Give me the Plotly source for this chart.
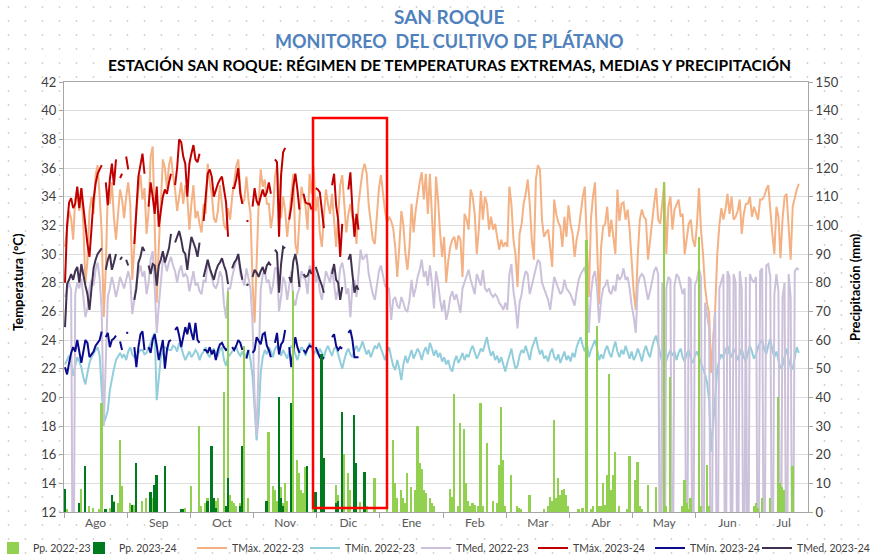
import base64
import plotly.graph_objects as go

# ---------------- DATA ----------------
N_DIAS = 365  # categorías diarias (1 Ago - 31 Jul)
dias = list(range(N_DIAS))
meses = ["Ago", "Sep", "Oct", "Nov", "Dic", "Ene", "Feb", "Mar", "Abr", "May", "Jun", "Jul"]

tmax_2223 = [
    30.5, 31.8, 33.0, 32.5, 31.0, 33.8, 34.5, 33.0, 34.6, 32.0, 28.0, 29.5, 33.0, 34.0, 32.8, 35.5, 36.2, 34.0, 31.5, 25.6, 29.0, 34.5, 33.5, 35.0, 32.5, 31.0, 33.0, 34.5, 33.8, 32.5, 34.0,
    35.0, 33.5, 28.2, 30.5, 33.0, 34.5, 35.5, 33.8, 34.6, 31.4, 33.0, 36.8, 37.5, 32.0, 26.6, 30.5, 34.0, 36.6, 36.0, 34.6, 36.2, 36.8, 35.5, 34.5, 33.0, 34.2, 35.0, 33.5, 34.8, 34.0, 31.7,
    33.5, 34.8, 32.5, 33.0, 32.1, 31.5, 33.5, 32.8, 36.3, 35.0, 34.2, 32.5, 32.2, 33.0, 34.8, 33.5, 32.0, 31.7, 33.2, 32.4, 34.0, 35.0, 36.1, 36.6, 34.5, 33.5, 33.8, 35.4, 33.8, 32.8, 28.0,
    25.2, 30.0, 33.5, 35.9, 34.7, 35.2, 33.5, 33.5, 31.8, 32.8, 35.4, 36.2, 34.0, 32.5, 34.0, 33.0, 31.2, 32.8, 34.5, 35.6, 30.7, 30.0, 32.4, 34.7, 34.0, 33.3, 31.7, 35.6, 34.2, 36.1, 33.0,
    34.0, 31.5, 30.5, 32.6, 34.5, 33.5, 32.8, 34.2, 32.0, 30.5, 32.6, 34.8, 35.5, 33.8, 31.5, 32.8, 33.5, 32.5, 32.4, 30.7, 33.5, 34.7, 35.8, 36.3, 35.6, 33.4, 32.0, 31.0, 30.7, 32.8, 34.6,
    35.5, 34.0, 33.0, 32.2, 32.6, 32.3, 31.8, 30.5, 28.4, 30.5, 33.0, 32.0, 30.0, 28.9, 30.5, 33.5, 31.5, 33.0, 34.2, 35.0, 35.7, 33.8, 35.6, 32.8, 35.6, 32.8, 29.8, 35.4, 33.8, 31.5, 29.8,
    31.2, 28.0, 29.5, 30.5, 31.0, 31.2, 30.3, 31.3, 31.0, 28.4, 32.8, 32.4, 31.7, 34.5, 34.0, 32.8, 30.0, 31.7, 34.4, 32.4, 34.0, 33.5, 31.7, 32.6, 31.7, 32.1, 31.2, 30.3, 31.0, 30.5, 30.8,
    30.5, 34.7, 33.5, 31.0, 30.0, 27.7, 31.4, 32.1, 33.5, 34.2, 35.2, 33.5, 31.0, 29.6, 35.2, 36.2, 35.9, 32.4, 31.2, 31.5, 31.7, 30.5, 29.1, 33.8, 32.8, 32.2, 31.9, 30.5, 32.6, 31.2, 33.4,
    32.1, 31.4, 29.8, 31.0, 31.7, 33.1, 34.0, 34.7, 31.2, 27.0, 32.4, 34.0, 35.0, 31.2, 26.5, 30.5, 31.9, 32.1, 33.3, 31.2, 32.4, 31.2, 30.0, 34.5, 32.3, 33.5, 33.6, 32.4, 33.1, 31.7, 29.1,
    27.3, 26.1, 30.0, 32.4, 33.1, 32.6, 32.4, 29.6, 31.0, 32.4, 33.5, 34.6, 32.4, 32.1, 33.5, 35.0, 30.0, 33.3, 34.0, 31.7, 33.1, 33.5, 33.8, 32.6, 32.8, 30.0, 31.0, 32.1, 32.4, 31.0, 30.5,
    32.0, 34.6, 31.7, 30.0, 27.7, 26.5, 25.9, 21.7, 24.0, 26.3, 30.0, 32.0, 33.2, 32.4, 33.1, 34.2, 32.8, 34.0, 32.4, 32.6, 33.0, 33.8, 31.4, 32.8, 33.5, 33.5, 34.0, 32.6, 33.3, 32.8, 32.4,
    33.8, 33.8, 34.0, 34.5, 34.8, 32.8, 31.4, 30.0, 33.3, 32.6, 29.7, 32.4, 34.0, 34.2, 32.1, 29.6, 33.3, 34.0, 34.5, 34.9, None, None, None, None,
]

tmin_2223 = [
    22.3, 22.6, 22.9, 22.4, 21.5, 22.2, 22.8, 22.5, 22.1, 21.4, 20.9, 21.7, 22.4, 22.8, 23.1, 23.3, 23.5, 22.9, 20.5, 18.2, 18.6, 19.1, 20.5, 21.4, 22.0, 22.6, 22.9, 23.1, 22.8, 23.0, 22.6,
    23.2, 23.5, 23.0, 22.8, 22.8, 23.1, 23.3, 23.3, 23.0, 23.1, 23.4, 23.8, 24.2, 24.5, 19.8, 21.5, 22.8, 23.2, 23.5, 23.4, 23.3, 23.3, 23.6, 23.5, 23.2, 23.8, 23.5, 23.0, 22.6, 22.9, 23.2,
    22.8, 23.0, 23.3, 23.1, 22.6, 23.0, 23.2, 23.5, 23.0, 22.8, 23.2, 23.4, 23.0, 22.9, 23.3, 23.5, 22.6, 22.2, 22.8, 23.0, 23.2, 23.4, 23.5, 23.1, 22.9, 23.2, 22.8, 23.0, 23.3, 22.6, 21.5,
    19.0, 17.0, 18.7, 21.7, 22.8, 23.3, 23.0, 23.5, 23.2, 22.8, 23.4, 23.6, 23.2, 22.9, 23.3, 23.0, 22.7, 23.2, 23.6, 23.4, 23.0, 22.6, 23.1, 23.5, 23.3, 22.9, 23.4, 23.8, 23.5, 23.0, 23.3,
    23.0, 23.4, 23.1, 22.8, 23.3, 23.6, 23.2, 22.9, 23.4, 23.5, 23.0, 22.4, 22.0, 22.6, 23.1, 23.4, 23.0, 22.8, 23.3, 23.6, 23.2, 23.5, 23.9, 23.4, 23.0, 23.3, 22.8, 23.2, 23.6, 23.4, 23.8,
    23.4, 23.0, 22.6, 23.2, 23.5, 22.8, 22.2, 21.9, 22.6, 22.0, 21.2, 22.3, 22.9, 22.4, 22.8, 23.3, 22.7, 23.0, 23.4, 23.1, 22.6, 23.2, 23.5, 23.0, 23.8, 23.4, 22.9, 23.3, 22.8, 23.1, 22.5,
    22.8, 22.3, 22.6, 22.0, 21.8, 22.5, 22.9, 22.4, 22.7, 23.1, 22.6, 23.0, 22.8, 23.3, 23.6, 23.1, 22.7, 23.0, 23.4, 23.2, 23.8, 24.2, 23.4, 22.9, 23.2, 22.6, 22.9, 22.4, 22.8, 22.2, 21.8,
    22.4, 23.0, 23.4, 22.6, 22.0, 22.2, 22.9, 23.3, 23.1, 23.6, 23.0, 22.6, 23.4, 23.8, 24.2, 23.5, 23.0, 23.3, 22.7, 22.9, 22.5, 23.1, 23.4, 22.8, 22.6, 23.0, 22.4, 22.8, 23.2, 22.6, 22.9,
    22.5, 23.1, 22.8, 23.5, 23.9, 24.2, 23.6, 23.2, 23.8, 22.8, 23.3, 23.7, 24.0, 23.4, 22.6, 23.0, 22.7, 23.3, 23.6, 23.1, 22.8, 23.4, 23.9, 23.2, 22.8, 23.3, 23.0, 23.6, 23.1, 22.7, 23.2,
    22.6, 22.9, 23.4, 23.0, 22.5, 23.2, 23.6, 23.1, 22.8, 23.5, 24.0, 24.3, 23.6, 23.0, 22.4, 22.1, 22.6, 23.0, 23.3, 22.9, 23.2, 22.6, 23.1, 23.4, 22.8, 22.5, 23.0, 23.3, 22.7, 22.4, 22.9,
    23.2, 22.8, 22.4, 22.0, 21.6, 21.0, 19.8, 16.2, 18.0, 19.6, 22.0, 22.6, 23.0, 22.7, 23.3, 23.6, 23.0, 22.8, 23.4, 23.1, 22.6, 23.0, 23.4, 22.8, 22.5, 23.1, 23.6, 23.2, 22.7, 23.0, 23.5,
    23.8, 24.0, 23.4, 23.0, 23.6, 24.1, 23.3, 22.8, 23.2, 22.6, 22.0, 22.2, 22.8, 23.4, 22.6, 22.1, 22.0, 22.8, 23.5, 23.1, None, None, None, None,
]

tmed_2223 = [
    27.0, 27.6, 28.0, 27.5, 0.0, 27.2, 28.0, 27.6, 28.3, 27.0, 25.6, 26.2, 27.6, 28.2, 27.8, 28.9, 29.4, 28.3, 26.0, 18.0, 23.5, 27.0, 27.6, 28.4, 27.8, 27.0, 27.6, 28.4, 28.0, 27.6, 28.2,
    28.8, 28.2, 25.8, 26.8, 28.0, 28.6, 29.2, 28.4, 28.8, 27.2, 28.0, 29.6, 30.2, 27.6, 24.5, 26.4, 28.2, 29.6, 29.4, 28.8, 29.4, 29.8, 29.2, 28.8, 28.0, 28.8, 29.2, 28.4, 28.6, 28.4, 27.4,
    28.2, 28.8, 27.8, 28.0, 27.4, 27.2, 28.2, 28.0, 29.6, 29.0, 28.6, 27.8, 27.6, 28.0, 28.8, 28.4, 26.5, 25.5, 27.6, 27.6, 28.4, 29.0, 29.6, 29.8, 28.6, 28.2, 27.8, 29.0, 28.4, 27.6, 25.2,
    20.0, 17.3, 22.5, 27.5, 28.6, 28.8, 28.0, 28.2, 27.2, 27.8, 29.0, 29.0, 26.0, 27.0, 28.4, 28.0, 26.8, 27.8, 28.8, 26.8, 26.4, 27.2, 27.6, 28.8, 28.4, 28.2, 27.2, 29.2, 28.6, 29.6, 28.0,
    28.6, 27.4, 26.8, 27.8, 28.8, 28.4, 28.0, 29.0, 27.8, 26.8, 27.6, 29.0, 29.4, 28.6, 27.2, 27.6, 25.6, 27.8, 28.2, 27.0, 28.6, 30.3, 29.6, 29.8, 30.0, 28.6, 27.8, 27.2, 26.8, 28.0, 28.8,
    29.2, 28.4, 27.8, 27.6, 27.6, 25.4, 26.8, 27.0, 26.4, 26.2, 27.0, 26.6, 26.1, 26.0, 26.8, 28.2, 27.0, 27.6, 28.4, 28.9, 29.6, 28.4, 28.8, 27.8, 29.2, 28.0, 26.2, 28.8, 28.0, 26.8, 26.0,
    26.8, 25.4, 26.0, 27.0, 27.4, 26.8, 27.2, 26.6, 25.9, 27.6, 28.0, 28.4, 28.9, 28.2, 27.6, 27.2, 28.6, 28.2, 27.8, 28.9, 27.6, 27.4, 27.6, 27.2, 27.0, 27.2, 27.0, 26.6, 26.4, 26.1, 26.6,
    26.1, 28.6, 29.3, 27.4, 26.4, 24.8, 26.6, 27.2, 28.2, 28.8, 28.6, 27.2, 27.8, 28.4, 29.2, 29.6, 29.4, 28.0, 27.6, 27.2, 26.8, 26.1, 27.2, 28.4, 28.0, 27.6, 27.2, 27.4, 28.2, 27.6, 27.4,
    27.2, 26.8, 26.4, 27.4, 28.2, 28.6, 28.9, 29.1, 28.0, 24.5, 27.2, 28.4, 28.8, 27.6, 25.2, 26.8, 27.6, 27.8, 28.2, 27.4, 27.2, 27.8, 27.4, 28.6, 28.2, 28.4, 29.0, 28.2, 28.4, 27.6, 26.4,
    25.6, 24.5, 27.8, 28.4, 28.6, 28.4, 27.6, 26.8, 27.4, 28.2, 28.8, 29.1, 28.6, 0.0, 28.0, 0.0, 27.6, 28.4, 28.2, 0.0, 27.8, 28.6, 28.4, 27.8, 27.2, 27.6, 0.0, 28.4, 28.2, 0.0, 27.8,
    28.2, 29.0, 28.4, 0.0, 26.6, 25.8, 24.8, 0.0, 24.0, 26.0, 0.0, 27.6, 28.2, 28.6, 0.0, 28.8, 28.4, 0.0, 28.6, 28.0, 0.0, 28.8, 27.6, 0.0, 28.4, 0.0, 28.6, 28.2, 28.0, 28.4, 0.0,
    28.8, 29.0, 0.0, 29.2, 29.3, 28.4, 0.0, 27.2, 28.6, 27.4, 0.0, 27.0, 28.0, 0.0, 28.6, 27.0, 0.0, 28.8, 29.0, 28.9, None, None, None, None,
]

tmax_2324 = [
    28.0, 32.0, 33.6, 33.9, 33.2, 33.5, 34.7, 33.2, 34.6, 33.1,
    32.0, 30.7, 29.8, 31.8, 33.8, 34.9, 35.6, 35.9, 36.2, None,
    35.0, 33.4, 35.2, 36.3, 34.8, 36.6, None, 35.3, 35.6, None,
    36.8, 35.9, None, None, 30.7, 33.0, 35.4, 36.2, 37.0, 35.6,
    None, 33.3, 35.0, 34.0, 32.8, 34.7, 31.9, 33.0, 34.0, 34.5,
    34.2, 35.0, 35.6, None, 34.8, 36.0, 38.0, 37.8, 36.8, 36.3,
    34.0, 36.3, 37.0, 37.6, 36.6, 36.4, 37.0, None, 32.3, 34.0,
    35.6, 35.9, 35.4, 34.0, 34.5, 34.9, 35.2, 35.4, 34.5, 33.6,
    31.2, None, 34.6, 34.6, 35.2, 36.0, 34.2, 33.5, None, 32.3,
    32.3, None, 33.3, 34.6, 33.7, 33.4, 34.0, 34.5, 34.0, 34.3,
    35.0, 34.2, None, 36.6, 36.4, 31.2, 35.5, 37.1, 37.4, None,
    32.4, 33.3, 34.7, 35.6, 34.5, 33.1, None, 34.2, 33.6, 33.5,
    33.5, 33.1, None, 34.6, 34.5, 34.3, 33.2, 31.8, None, None,
    None, 34.8, 35.6, 33.4, 32.4, 29.8, 32.1, None, None, 34.5,
    35.7, 33.1, 31.2, 32.8, 31.7,
]

tmin_2324 = [
    22.1, 21.6, 22.4, 23.1, 23.5, 23.2, 24.0, 23.1, 22.4, 23.2,
    24.0, 23.8, 22.8, 23.0, 23.2, 23.6, 23.8, 24.0, 24.6, None,
    24.2, 24.5, 23.5, 24.0, 24.1, 24.3, None, 23.9, 23.3, None,
    24.5, 24.5, None, None, 23.5, 22.1, 23.5, 24.4, 24.6, 23.3,
    None, 23.5, 23.1, 24.0, 24.4, 23.6, 22.6, 23.3, 24.0, 22.0,
    23.3, 23.9, 24.0, None, 24.7, 24.9, 24.3, 23.5, 24.2, 24.9,
    24.4, 25.2, 24.5, 24.0, 25.2, 24.0, 23.8, None, 23.3, 23.3,
    23.1, 23.5, 23.0, 23.3, 22.6, 23.3, 23.7, 23.8, 23.5, 23.3,
    23.4, None, 23.5, 23.3, 23.6, 24.0, 23.8, 23.3, None, 22.7,
    23.3, None, 23.1, 23.3, 24.2, 23.9, 23.7, 24.4, 24.5, 23.6,
    23.3, 22.8, None, 23.8, 24.5, 23.0, 23.7, 23.9, 24.7, None,
    23.5, 22.1, 23.3, 24.2, 23.5, 23.1, None, 23.3, 23.1, 23.4,
    23.6, 23.5, None, 23.5, 23.1, 22.8, 22.6, 22.8, None, None,
    None, 24.2, 24.4, 23.6, 23.3, 23.5, 23.4, None, None, 24.5,
    24.7, 24.0, 22.8, 22.8, 22.8,
]

tmed_2324 = [
    24.9, 27.9, 28.2, 28.6, 28.2, 28.8, 29.1, 28.0, 29.3, 28.4,
    27.8, 27.2, 26.1, 27.6, 29.0, 29.6, 30.0, 30.2, 30.4, None,
    28.9, 29.6, 30.0, 28.9, 29.4, 30.0, None, 29.6, 29.8, None,
    29.6, 29.2, None, None, 26.8, 27.6, 29.4, 29.8, 30.5, 30.2,
    None, 29.2, 28.6, 29.3, 29.2, 27.8, 29.2, 29.6, 30.2, 29.4,
    30.0, 30.4, 31.4, None, 30.8, 31.2, 31.6, 31.0, 30.2, 30.0,
    28.9, 30.2, 31.2, 30.8, 30.4, 29.8, 30.8, None, 28.4, 29.0,
    29.6, 29.0, 28.6, 28.2, 28.8, 29.2, 29.4, 29.7, 29.2, 28.8,
    27.9, None, 29.0, 29.4, 29.6, 30.0, 29.0, 28.2, None, 27.8,
    27.9, None, 28.4, 28.9, 28.7, 28.4, 28.8, 29.1, 28.6, 29.2,
    29.4, 29.2, None, 30.3, 30.1, 27.3, 29.3, 30.5, 30.4, None,
    28.4, 28.0, 29.5, 30.0, 29.2, 27.7, None, 28.6, 28.4, 28.5,
    28.9, 28.6, None, 29.1, 28.6, 28.2, 27.8, 27.3, None, None,
    None, 28.6, 29.3, 28.2, 28.0, 26.8, 27.7, None, None, 29.6,
    30.0, 28.6, 27.3, 27.8, 27.5,
]

# Precipitación diaria (día de la serie, mm)
pp_2223_dia = [1, 8, 12, 14, 17, 18, 22, 24, 26, 27, 28, 32, 34, 38, 40, 42, 43, 45, 57, 59,
               62, 66, 67, 69, 70, 73, 74, 75, 78, 80, 81, 82, 83, 84, 86, 88, 90, 100, 102, 103,
               104, 106, 107, 108, 109, 112, 114, 115, 116, 117, 118, 122, 126, 127, 133, 134, 137, 139, 140, 142,
               145, 148, 152, 158, 161, 162, 163, 165, 166, 167, 168, 170, 172, 173, 174, 175, 176, 177, 179, 180,
               181, 189, 190, 191, 193, 194, 196, 197, 198, 199, 200, 201, 203, 204, 205, 207, 210, 212, 213, 214,
               215, 216, 219, 222, 223, 224, 228, 235, 237, 238, 239, 240, 241, 242, 243, 244, 245, 246, 247, 252,
               254, 256, 258, 259, 261, 262, 263, 264, 265, 266, 267, 268, 269, 270, 272, 276, 277, 280, 281, 282,
               283, 286, 290, 294, 295, 297, 303, 304, 305, 306, 307, 311, 312, 315, 316, 338, 339, 340, 342, 346,
               350, 351, 352, 353, 357]
pp_2223_mm = [1.0, 8.0, 2.0, 1.5, 1.2, 38.0, 1.5, 4.0, 3.0, 25.0, 9.0, 3.0, 2.4, 4.0, 5.0, 2.0, 5.0, 8.0, 1.0, 1.5,
              9.0, 30.0, 2.0, 3.0, 5.0, 5.0, 4.0, 5.0, 42.0, 77.0, 6.0, 4.0, 3.0, 2.0, 3.0, 58.0, 5.0, 28.0, 9.0, 7.6,
              4.0, 8.8, 3.0, 10.0, 4.0, 77.0, 18.0, 13.5, 7.6, 6.5, 15.8, 6.5, 4.0, 2.4, 9.4, 6.0, 20.4, 13.5, 7.6, 17.0,
              3.6, 2.0, 12.0, 1.0, 25.0, 10.0, 5.0, 7.6, 5.0, 3.0, 13.5, 8.8, 7.6, 30.0, 17.0, 15.0, 7.6, 6.5, 5.0, 3.0,
              2.0, 8.0, 5.3, 41.0, 2.0, 31.0, 29.0, 10.0, 4.0, 2.0, 3.0, 2.5, 2.0, 38.0, 2.0, 24.0, 4.0, 3.0, 16.4, 36.7,
              18.0, 2.0, 13.0, 2.0, 1.5, 1.0, 6.0, 1.0, 2.0, 5.3, 4.0, 32.0, 5.0, 11.7, 6.0, 7.6, 8.0, 6.0, 2.0, 1.0,
              1.5, 95.0, 1.0, 2.0, 65.0, 2.0, 2.0, 10.0, 2.5, 13.0, 48.0, 7.6, 13.0, 21.0, 2.0, 1.0, 19.5, 11.0, 17.5, 2.0,
              1.0, 9.4, 8.8, 115.0, 2.0, 47.0, 2.0, 11.0, 3.0, 1.0, 5.0, 96.0, 2.0, 16.4, 2.0, 2.0, 3.0, 1.5, 5.0, 5.0,
              40.0, 10.0, 8.8, 7.6, 16.0]

pp_2324_dia = [0, 7, 10, 20, 23, 24, 33, 35, 42, 44, 45, 49, 57, 58, 70, 72, 73, 74, 79, 80,
               86, 87, 99, 105, 106, 107, 111, 119, 123, 126, 127, 133, 134, 136, 142, 143, 147]
pp_2324_mm = [8.0, 3.0, 16.0, 1.0, 6.0, 3.5, 2.5, 17.0, 7.0, 9.4, 12.9, 16.0, 1.0, 1.0, 4.0, 23.0, 5.0, 1.5, 2.0, 12.0,
              2.0, 23.0, 4.0, 40.0, 5.0, 2.0, 38.0, 16.0, 7.0, 55.0, 19.0, 3.0, 4.0, 35.0, 34.0, 17.0, 14.0]

# ---------------- STYLE ----------------
FONT = "Lato, 'Open Sans', sans-serif"
C_PP1, C_PP2 = "#92D050", "#007A1E"
C_TMAX1, C_TMIN1, C_TMED1 = "#F4B183", "#92CDDC", "#CCC1DA"
C_TMAX2, C_TMIN2, C_TMED2 = "#C00000", "#0A0A8C", "#403151"
AXIS_C = "#A6A6A6"

W, H = 872, 556
L, R, T, B = 64, 64, 82, 44
PW, PH = W - L - R, H - T - B


def px_x(p):
    return (p - L) / PW


def px_y(p):
    return (H - B - p) / PH


# legend text start (px) for each entry
legend_text_x = [33, 119, 232, 345, 456, 573, 690, 797]
legend_ids = ["legend"] + [f"legend{i}" for i in range(2, 9)]

fig = go.Figure()
fig.add_trace(go.Bar(x=pp_2223_dia, y=pp_2223_mm, name="Pp. 2022-23", yaxis="y2",
                     marker=dict(color=C_PP1, line=dict(width=0)), width=0.85, legend=legend_ids[0]))
fig.add_trace(go.Bar(x=pp_2324_dia, y=pp_2324_mm, name="Pp. 2023-24", yaxis="y2",
                     marker=dict(color=C_PP2, line=dict(width=0)), width=0.85, legend=legend_ids[1]))

line_series = [
    ("TMáx. 2022-23", tmax_2223, C_TMAX1),
    ("TMín. 2022-23", tmin_2223, C_TMIN1),
    ("TMed. 2022-23", tmed_2223, C_TMED1),
    ("TMáx. 2023-24", tmax_2324, C_TMAX2),
    ("TMín. 2023-24", tmin_2324, C_TMIN2),
    ("TMed. 2023-24", tmed_2324, C_TMED2),
]
for i, (name, vals, col) in enumerate(line_series):
    fig.add_trace(go.Scatter(x=dias[:len(vals)], y=vals, name=name, mode="lines",
                             line=dict(color=col, width=2), connectgaps=False,
                             legend=legend_ids[i + 2]))

# background dotted pattern for chart area
svg = (f'<svg xmlns="http://www.w3.org/2000/svg" width="{W}" height="{H}">'
       '<defs><pattern id="p" width="17" height="14" patternUnits="userSpaceOnUse">'
       '<circle cx="8.5" cy="7" r="0.9" fill="#cfcfcf"/></pattern></defs>'
       f'<rect width="{W}" height="{H}" fill="white"/>'
       f'<rect width="{W}" height="{H}" fill="url(#p)"/>'
       f'<rect x="{L}" y="{T}" width="{PW}" height="{PH}" fill="white"/></svg>')
uri = "data:image/svg+xml;base64," + base64.b64encode(svg.encode()).decode()

month_centers = [15 + 31 * k for k in range(11)] + [352.5]
boundaries = [-0.5 + 31 * k for k in range(12)]

legend_layouts = {}
for lid, tx in zip(legend_ids, legend_text_x):
    legend_layouts[lid] = dict(orientation="h", x=px_x(tx - 40), y=px_y(548),
                               xanchor="left", yanchor="middle", bgcolor="rgba(0,0,0,0)",
                               font=dict(size=10.5, color="#404040"), itemwidth=30)


def ann(text, x, y, size, color, angle=0):
    return dict(text=text, xref="paper", yref="paper", x=px_x(x), y=px_y(y),
                xanchor="center", yanchor="middle", showarrow=False, textangle=angle,
                font=dict(size=size, color=color))


fig.update_layout(
    width=W, height=H,
    margin=dict(l=L, r=R, t=T, b=B, autoexpand=False),
    paper_bgcolor="white", plot_bgcolor="white",
    font=dict(family=FONT, size=12, color="#404040"),
    barmode="overlay", bargap=0,
    showlegend=True,
    images=[dict(source=uri, xref="paper", yref="paper", x=px_x(0), y=px_y(0),
                 sizex=W / PW, sizey=H / PH, xanchor="left", yanchor="top",
                 sizing="stretch", layer="below")],
    xaxis=dict(range=[-0.5, 364.5], tickmode="array", tickvals=month_centers, ticktext=meses,
               ticks="", showgrid=False, zeroline=False, showline=True, mirror=True,
               linecolor=AXIS_C, linewidth=1,
               tickfont=dict(size=12, color="#595959"),
               minor=dict(tickmode="array", tickvals=boundaries, ticks="outside", ticklen=5,
                          tickcolor=AXIS_C, showgrid=False)),
    yaxis=dict(range=[12, 42], dtick=2, tick0=12, ticks="outside", ticklen=4, tickcolor=AXIS_C,
               showline=True, linecolor=AXIS_C, gridcolor="#DDDDDD", gridwidth=1, zeroline=False,
               tickfont=dict(size=13, color="#404040")),
    yaxis2=dict(range=[0, 150], dtick=10, overlaying="y", side="right", ticks="outside", ticklen=4,
                tickcolor=AXIS_C, showline=True, linecolor=AXIS_C, showgrid=False, zeroline=False,
                tickfont=dict(size=13, color="#404040")),
    shapes=[dict(type="rect", xref="paper", yref="paper", x0=px_x(313), x1=px_x(387),
                 y0=px_y(508), y1=px_y(118), line=dict(color="#FF0000", width=2.5))],
    annotations=[
        ann("<b>SAN ROQUE</b>", 449, 17, 19, "#4F81BD"),
        ann("<b>MONITOREO  DEL CULTIVO DE PLÁTANO</b>", 449, 41, 18, "#4F81BD"),
        ann("<b>ESTACIÓN SAN ROQUE: RÉGIMEN DE TEMPERATURAS EXTREMAS, MEDIAS Y PRECIPITACIÓN</b>",
            449, 65, 15.6, "#000000"),
        ann("<b>Temperatura (°C)</b>", 18, 282, 13, "#000000", -90),
        ann("<b>Precipitación (mm)</b>", 855, 287, 13, "#000000", -90),
    ],
    **legend_layouts,
)

fig.write_html("out.html", config={"displayModeBar": False},
               post_script="document.body.style.margin='0px';document.body.style.overflow='hidden';")
